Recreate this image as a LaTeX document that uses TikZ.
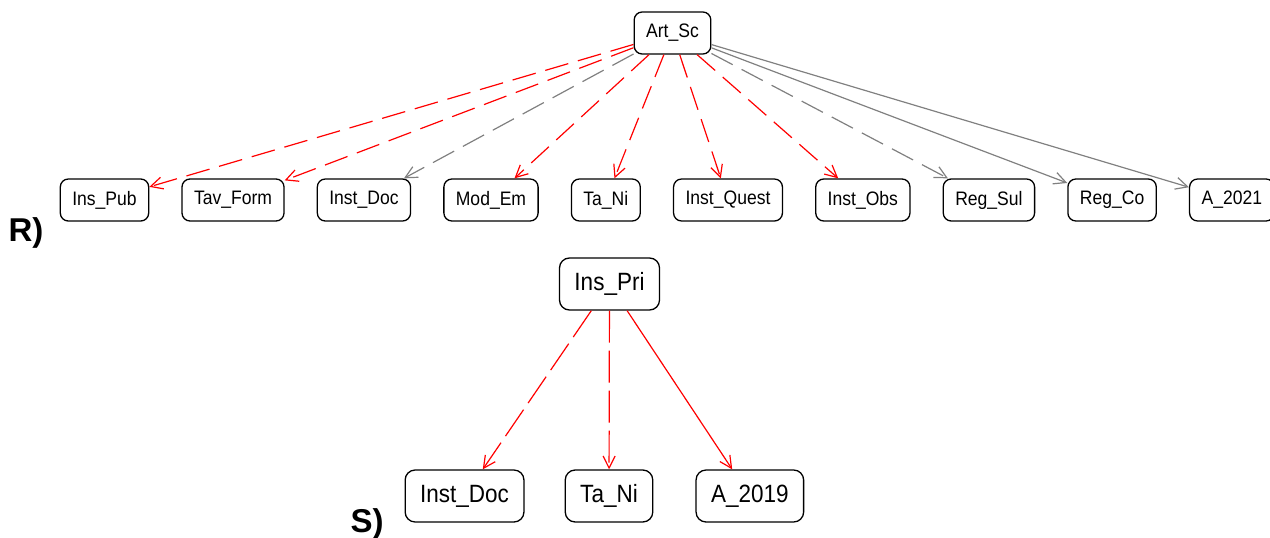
\documentclass[tikz,border=0pt]{standalone}
\usepackage{fontspec}
\setmainfont{Liberation Sans}
\newfontfamily\boxfont[FakeStretch=0.9]{Liberation Sans}
\usetikzlibrary{arrows.meta, positioning}

\definecolor{linkgray}{RGB}{128,128,128}

\begin{document}
\begin{tikzpicture}[x=1pt, y=-1pt, node distance=32pt,
    >={Straight Barb[length=12pt,width=12pt]}]
\tikzset{
    cls/.style={draw=black, line width=1.3pt, rounded corners=8pt,
      minimum height=42pt, inner xsep=12pt, font=\boxfont\fontsize{19.5}{22}\selectfont},
    bigcls/.style={cls, rounded corners=10pt, minimum height=52pt,
      inner xsep=15pt, font=\boxfont\fontsize{25}{28}\selectfont},
    dep/.style={->, line width=1.2pt, dash pattern=on 24pt off 10pt},
    deplong/.style={->, line width=1.2pt, dash pattern=on 32pt off 8pt},
    assoc/.style={->, line width=1.2pt},
    tag/.style={font=\fontsize{33}{36}\selectfont\bfseries},
  }
\useasboundingbox (0,0) rectangle (1270,538);

% R) diagram
\node (art_sc) [cls] at (672.5,33) {Art\_Sc};
\node (ins_pub) [cls] at (104.5,200) {Ins\_Pub};
\node (tav_form) [cls, right=of ins_pub] {Tav\_Form};
\node (inst_doc) [cls, right=of tav_form] {Inst\_Doc};
\node (mod_em) [cls, right=of inst_doc] {Mod\_Em};
\node (ta_ni) [cls, right=of mod_em] {Ta\_Ni};
\node (inst_quest) [cls, right=of ta_ni] {Inst\_Quest};
\node (inst_obs) [cls, right=of inst_quest] {Inst\_Obs};
\node (reg_sul) [cls, right=of inst_obs] {Reg\_Sul};
\node (reg_co) [cls, right=of reg_sul] {Reg\_Co};
\node (a_2021) [cls, right=of reg_co] {A\_2021};
\node (tag_r) [tag] at (26,233) {R)};

\draw [dep, red] (art_sc) -- (ins_pub);
\draw [dep, red] (art_sc) -- (tav_form);
\draw [dep, linkgray] (art_sc) -- (inst_doc);
\draw [dep, red] (art_sc) -- (mod_em);
\draw [dep, red] (art_sc) -- (ta_ni);
\draw [dep, red] (art_sc) -- (inst_quest);
\draw [dep, red] (art_sc) -- (inst_obs);
\draw [dep, linkgray] (art_sc) -- (reg_sul);
\draw [assoc, linkgray] (art_sc) -- (reg_co);
\draw [assoc, linkgray] (art_sc) -- (a_2021);

% S) diagram
\node (ins_pri) [bigcls] at (609.5,284) {Ins\_Pri};
\node (s_ta_ni) [bigcls] at (609,496) {Ta\_Ni};
\node (s_inst_doc) [bigcls, left=40pt of s_ta_ni] {Inst\_Doc};
\node (a_2019) [bigcls, right=42pt of s_ta_ni] {A\_2019};
\node (tag_s) [tag] at (367,524) {S)};

\draw [deplong, red] (ins_pri) -- (s_inst_doc);
\draw [deplong, red] (ins_pri) -- (s_ta_ni);
\draw [assoc, red] (ins_pri) -- (a_2019);
\end{tikzpicture}
\end{document}
